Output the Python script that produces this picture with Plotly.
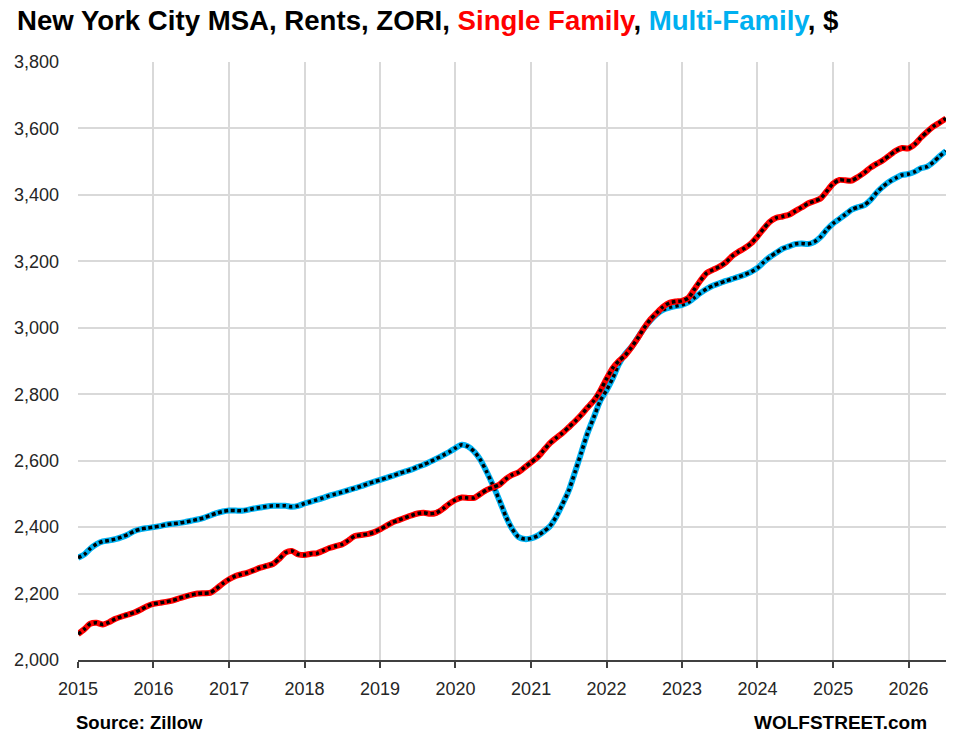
import pandas as pd
import plotly.graph_objects as go

months = pd.date_range("2015-01-01", "2026-07-01", freq="MS")

single_family = [
    2078, 2093, 2109, 2112, 2107, 2114, 2124, 2131, 2137, 2143, 2152, 2162,
    2169, 2172, 2175, 2179, 2185, 2191, 2196, 2200, 2201, 2202, 2215, 2230,
    2243, 2253, 2258, 2263, 2270, 2278, 2283, 2289, 2305, 2323, 2328, 2318,
    2316, 2320, 2321, 2329, 2337, 2343, 2348, 2360, 2373, 2376, 2379, 2384,
    2393, 2404, 2414, 2421, 2428, 2435, 2441, 2443, 2440, 2443, 2455, 2470,
    2482, 2489, 2488, 2488, 2500, 2512, 2520, 2528, 2545, 2557, 2565, 2580,
    2595, 2610, 2630, 2652, 2668, 2683, 2700, 2718, 2738, 2760, 2781, 2810,
    2847, 2880, 2900, 2917, 2941, 2969, 2999, 3025, 3045, 3063, 3075, 3079,
    3081, 3090, 3115, 3143, 3165, 3175, 3184, 3197, 3216, 3229, 3240, 3254,
    3275, 3299, 3319, 3331, 3335, 3340, 3351, 3362, 3374, 3381, 3389, 3411,
    3434, 3445, 3444, 3443, 3454, 3467, 3482, 3494, 3505, 3519, 3533, 3541,
    3540, 3553, 3572, 3590, 3606, 3618, 3630,
]

multi_family = [
    2308, 2318, 2335, 2349, 2357, 2360, 2364, 2370, 2378, 2388, 2394, 2397,
    2400, 2403, 2407, 2410, 2412, 2415, 2419, 2423, 2428, 2435, 2442, 2447,
    2450, 2450, 2449, 2452, 2456, 2459, 2462, 2464, 2464, 2464, 2461, 2464,
    2471, 2477, 2482, 2488, 2495, 2500, 2505, 2511, 2517, 2523, 2530, 2536,
    2542, 2548, 2554, 2561, 2567, 2573, 2581, 2588, 2597, 2606, 2616, 2626,
    2638, 2648, 2643, 2627, 2602, 2565, 2525, 2480, 2432, 2395, 2370, 2364,
    2366, 2374, 2386, 2402, 2430, 2468, 2508, 2565, 2625, 2683, 2732, 2780,
    2812, 2850, 2890, 2921, 2942, 2970, 2998, 3022, 3041, 3054, 3061, 3065,
    3069, 3077, 3090, 3105, 3117, 3127, 3134, 3141, 3147, 3153, 3160, 3168,
    3180, 3198, 3213, 3226, 3238, 3245, 3252, 3254, 3252, 3258, 3273, 3295,
    3314, 3328, 3341, 3356, 3363, 3369, 3385, 3408, 3426, 3440, 3451, 3460,
    3463, 3470, 3480, 3485, 3499, 3517, 3532,
]

RED = "#FF0000"
BLUE = "#00B0F0"
FONT = "Liberation Sans, Arial, sans-serif"

fig = go.Figure()
for vals, col, name in [(multi_family, BLUE, "Multi-Family"), (single_family, RED, "Single Family")]:
    fig.add_trace(go.Scatter(x=months, y=vals, mode="lines", name=name,
                             line=dict(color=col, width=6, shape="spline", smoothing=0.6),
                             hoverinfo="skip"))
    fig.add_trace(go.Scatter(x=months, y=vals, mode="lines", name=name + " dots",
                             line=dict(color="black", width=3.5, dash="3.5px,3px",
                                       shape="spline", smoothing=0.6),
                             hoverinfo="skip"))

fig.update_layout(
    width=953, height=744,
    margin=dict(l=78, r=7, t=62, b=84),
    paper_bgcolor="white", plot_bgcolor="white",
    showlegend=False,
    font=dict(family=FONT, color="#262626"),
    title=dict(
        text=("<b>New York City MSA, Rents, ZORI, "
              f"<span style='color:{RED}'>Single Family</span>, "
              f"<span style='color:{BLUE}'>Multi-Family</span>, $</b>"),
        font=dict(family=FONT, size=27.6, color="black"),
        xref="container", yref="container",
        x=17 / 953, xanchor="left", y=1 - 20 / 744, yanchor="middle",
    ),
    xaxis=dict(
        type="date",
        range=["2015-01-01", "2026-07-01"],
        dtick="M12", tick0="2015-01-01", tickformat="%Y",
        showgrid=True, gridcolor="#D9D9D9", gridwidth=1.5,
        showline=True, linecolor="#404040", linewidth=1.5,
        ticks="outside", ticklen=6, tickcolor="#404040", tickwidth=1.5,
        tickfont=dict(size=18, color="#262626"),
        ticklabelstandoff=6,
        zeroline=False,
    ),
    yaxis=dict(
        range=[2000, 3800], dtick=200, tick0=2000,
        tickformat=",d",
        showgrid=True, gridcolor="#D9D9D9", gridwidth=1.5,
        showline=False, zeroline=False,
        ticks="", ticklabelstandoff=18,
        tickfont=dict(size=18, color="#262626"),
    ),
    annotations=[
        dict(text="<b>Source: Zillow</b>", xref="paper", yref="paper",
             x=(74 - 78) / 868, y=(660 - 722) / 598, xanchor="left", yanchor="middle",
             showarrow=False, font=dict(family=FONT, size=18.5, color="black")),
        dict(text="<b>WOLFSTREET.com</b>", xref="paper", yref="paper",
             x=(929 - 78) / 868, y=(660 - 722) / 598, xanchor="right", yanchor="middle",
             showarrow=False, font=dict(family=FONT, size=19, color="black")),
    ],
)

fig.write_html("out.html")
